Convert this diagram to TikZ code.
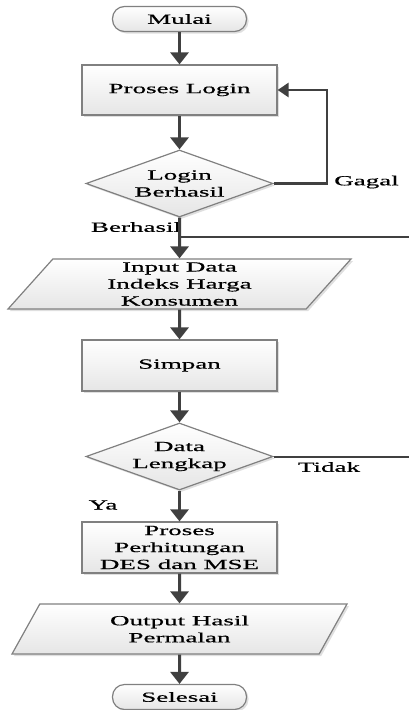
\documentclass[tikz,border=0pt]{standalone}
\usepackage{fontspec}
\setmainfont{Liberation Serif}[FakeStretch=1.93, FakeBold=0.6]
\usetikzlibrary{shapes.geometric,arrows.meta,shadows}

\tikzset{
  kotak/.style={draw=black!50, line width=1.2pt, top color=white, bottom color=black!10,
    drop shadow={shadow xshift=2pt, shadow yshift=-2pt, fill=black!25},
    align=center, inner sep=0pt, font=\fontsize{14}{17}\selectfont},
  proses/.style={kotak, rectangle, minimum width=195pt},
  terminal/.style={kotak, rectangle, rounded corners=12pt, minimum width=134pt, minimum height=25pt},
  keputusan/.style={kotak, diamond, aspect=2.8, minimum width=187pt, minimum height=67pt},
  data/.style={kotak, trapezium, trapezium left angle=44, trapezium right angle=136,
    trapezium stretches body, minimum height=50pt},
  panah/.style={draw=black!75, line width=3pt, -{Triangle[width=18pt,length=12pt]}},
  garis/.style={draw=black!75, line width=2pt},
  label/.style={inner sep=0pt, font=\fontsize{14}{17}\selectfont}
}

\begin{document}
\begin{tikzpicture}[x=1pt, y=-1pt]
        \useasboundingbox (0,0) rectangle (408,710);

        % Flow nodes
        \node[terminal] (mulai) at (179.5,19) {Mulai};
        \node[proses, minimum height=50pt] (login) at (179.5,90) {Proses Login};
        \node[keputusan] (cek) at (179.5,183.5) {Login\\Berhasil};
        \node[data, minimum width=343pt] (input) at (179.5,284) {Input Data\\Indeks Harga\\Konsumen};
        \node[proses, minimum height=51pt] (simpan) at (179.5,365.5) {Simpan};
        \node[keputusan] (lengkap) at (179.5,456.5) {Data\\Lengkap};
        \node[proses, minimum height=51pt] (hitung) at (179.5,547.5) {Proses\\Perhitungan\\DES dan MSE};
        \node[data, minimum width=335pt] (output) at (179.5,629) {Output Hasil\\Permalan};
        \node[terminal] (selesai) at (179.5,697) {Selesai};

        % Labels
        \node[label] (gagal) at (366.5,182) {Gagal};
        \node[label] (berhasil) at (136,227) {Berhasil};
        \node[label] (tidak) at (329,467) {Tidak};
        \node[label] (ya) at (103,505) {Ya};

        % Bends and loose ends
        \coordinate (belok) at (327,183.5);
        \coordinate (cabang) at (179.5,237);
        \coordinate (ujung1) at (410,237);
        \coordinate (ujung2) at (410,456.5);

        % Arrows
        \draw[panah] (mulai) -- (login);
        \draw[panah] (login) -- (cek);
        \draw[panah] (cek) -- (input);
        \draw[panah] (input) -- (simpan);
        \draw[panah] (simpan) -- (lengkap);
        \draw[panah] (lengkap) -- (hitung);
        \draw[panah] (hitung) -- (output);
        \draw[panah] (output) -- (selesai);

        % Gagal loop
        \draw[garis, line width=2.5pt, -{Triangle[width=14pt,length=11pt]}] (cek.east) -- (belok) |- (login.east);

        % Open lines
        \draw[garis] (cabang) -- (ujung1);
        \draw[garis] (lengkap.east) -- (ujung2);
    \end{tikzpicture}
\end{document}
